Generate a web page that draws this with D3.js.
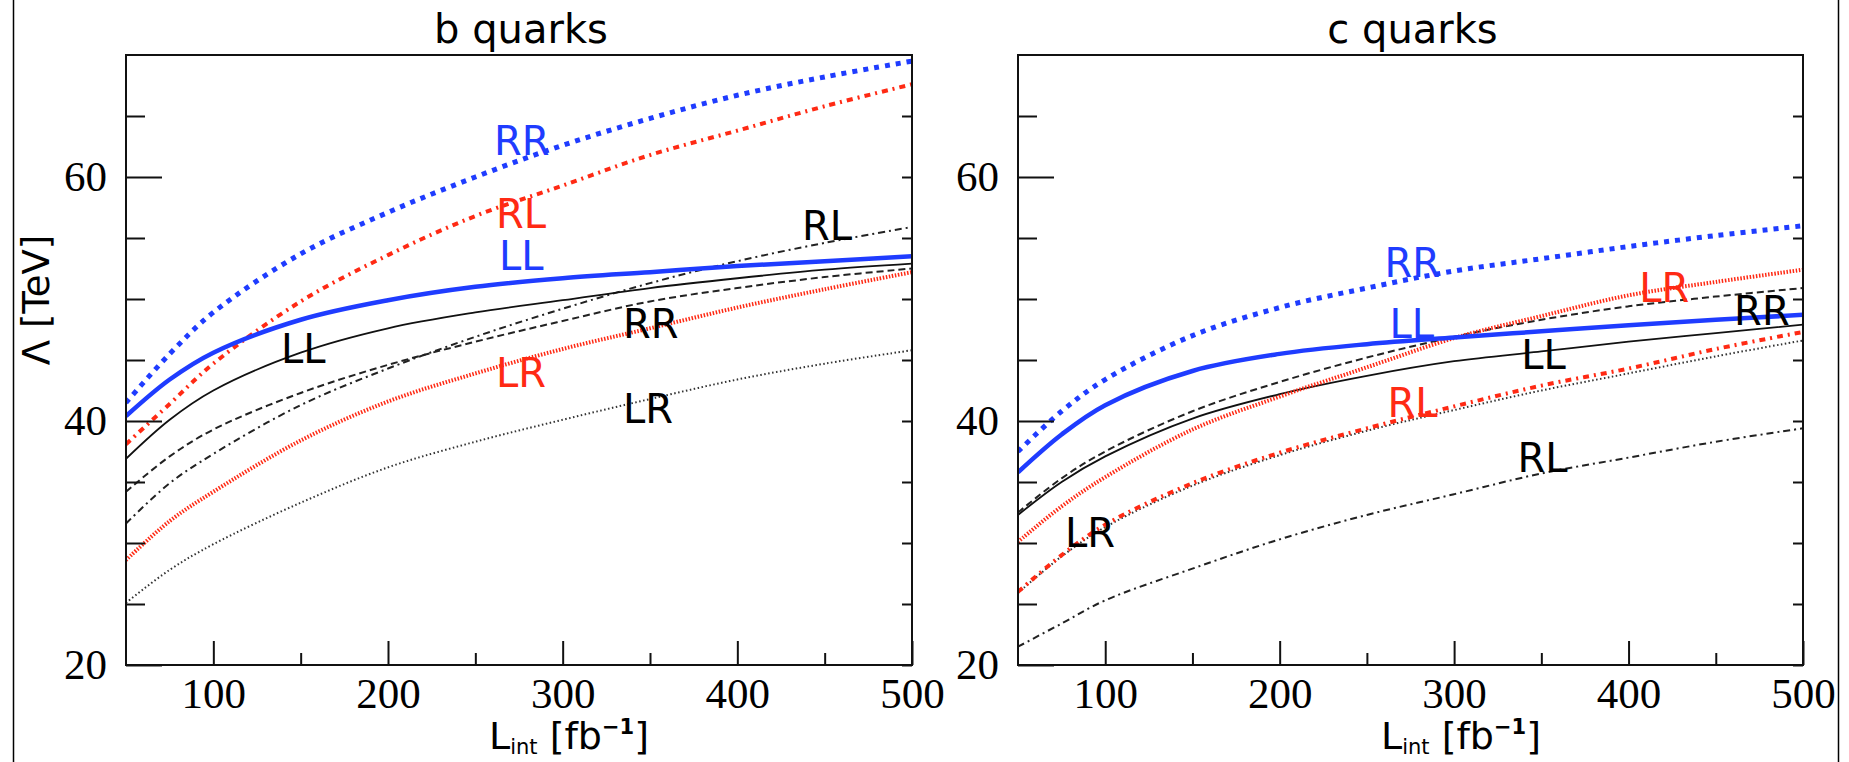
<!DOCTYPE html>
<html><head><meta charset="utf-8">
<script src="https://cdn.jsdelivr.net/npm/d3@7"></script>
<style>body{margin:0;background:#fff;} svg{display:block;background:#fff}</style>
</head><body>
<svg id="chart" width="1849" height="762"></svg>
<script>
// ---------- data ----------
const lumi = [50, 75, 100, 150, 200, 250, 300, 350, 400, 450, 500];
const panelTitles = ["b quarks", "c quarks"];
const xTickValues = [100, 200, 300, 400, 500];
const xMinorTicks = [150, 250, 350, 450];
const yTickValues = [20, 40, 60];
const yMinorTicks = [25, 30, 35, 45, 50, 55, 65];

// b quarks
const b_RR_blue  = [41.5, 45.5, 48.9, 53.7, 57.1, 60.0, 62.6, 64.8, 66.7, 68.2, 69.5];
const b_LL_blue  = [40.4, 43.4, 45.6, 48.3, 49.9, 51.0, 51.7, 52.2, 52.7, 53.1, 53.5];
const b_RL_red   = [38.1, 41.4, 44.7, 49.8, 53.6, 56.8, 59.3, 61.8, 63.8, 65.8, 67.6];
const b_LR_red   = [28.6, 31.8, 34.2, 38.4, 41.6, 43.9, 45.9, 47.6, 49.3, 50.8, 52.2];
const b_LL_black = [36.9, 40.1, 42.5, 45.6, 47.6, 48.9, 49.9, 50.9, 51.7, 52.4, 52.9];
const b_RR_black = [34.2, 37.1, 39.3, 42.3, 44.6, 46.5, 48.2, 49.8, 50.9, 51.8, 52.5];
const b_RL_black = [31.6, 34.9, 37.3, 41.3, 44.3, 46.9, 49.2, 51.3, 53.1, 54.6, 55.9];
const b_LR_black = [25.1, 27.8, 29.9, 33.3, 36.2, 38.3, 40.1, 41.8, 43.4, 44.7, 45.8];

// c quarks
const c_RR_blue  = [37.5, 40.8, 43.4, 47.0, 49.3, 50.9, 52.3, 53.3, 54.3, 55.2, 56.0];
const c_LL_blue  = [35.8, 38.9, 41.3, 44.1, 45.5, 46.3, 46.85, 47.35, 47.85, 48.3, 48.7];
const c_LR_red   = [30.1, 33.0, 35.4, 39.3, 42.0, 44.4, 46.8, 48.6, 50.3, 51.4, 52.4];
const c_RL_red   = [26.0, 29.0, 31.5, 34.9, 37.4, 39.4, 41.2, 42.9, 44.3, 45.9, 47.3];
const c_LL_black = [32.3, 35.0, 37.1, 40.2, 42.2, 43.7, 44.9, 45.7, 46.5, 47.2, 47.9];
const c_RR_black = [32.5, 35.3, 37.5, 40.8, 43.2, 45.2, 46.9, 48.3, 49.4, 50.2, 50.9];
const c_RL_black = [21.5, 23.4, 25.3, 27.9, 30.3, 32.3, 34.0, 35.7, 37.0, 38.3, 39.4];
const c_LR_black = [25.9, 28.9, 31.3, 34.7, 37.2, 39.2, 40.9, 42.5, 43.9, 45.3, 46.6];

// curve labels: text, luminosity, Lambda (data coordinates of label baseline start)
const b_labels = [
  ["RR", 260.7, 61.8, "blue"], ["RL", 261.8, 55.8, "red"], ["LL", 263.5, 52.4, "blue"],
  ["LL", 138.7, 44.75, "black"], ["LR", 261.8, 42.8, "red"], ["LR", 334.5, 39.8, "black"],
  ["RR", 334.5, 46.8, "black"], ["RL", 437, 54.8, "black"]
];
const c_labels = [
  ["RR", 260.1, 51.8, "blue"], ["LL", 263, 46.8, "blue"], ["RL", 261.8, 40.3, "red"],
  ["LL", 338.5, 44.3, "black"], ["LR", 406.1, 49.75, "red"], ["RR", 460.5, 47.9, "black"],
  ["RL", 336.3, 35.8, "black"], ["LR", 76.9, 29.7, "black"]
];

// ---------- styles ----------
const BLUE = "#1f3cff", RED = "#ff2a14";
const colorOf = {blue: BLUE, red: RED, black: "#000"};
const styles = {
  blueDot:   {stroke: BLUE, width: 5,   dash: "5,6"},
  blueSolid: {stroke: BLUE, width: 4.5, dash: null},
  redDashDot:{stroke: RED,  width: 4,   dash: "6,5,2,5"},
  redDot:    {stroke: RED,  width: 4,   dash: "1.5,1.6"},
  blkSolid:  {stroke: "#111", width: 1.8, dash: null},
  blkDash:   {stroke: "#222", width: 2,   dash: "7,4"},
  blkDashDot:{stroke: "#222", width: 2,   dash: "7,4,2,4"},
  blkDot:    {stroke: "#333", width: 2,   dash: "1.5,2.5"}
};

const panels = [
  {x0: 126, x1: 912, title: panelTitles[0], labels: b_labels,
   series: [
     [b_LR_black, "blkDot"], [b_RL_black, "blkDashDot"], [b_RR_black, "blkDash"], [b_LL_black, "blkSolid"],
     [b_LR_red, "redDot"], [b_RL_red, "redDashDot"], [b_LL_blue, "blueSolid"], [b_RR_blue, "blueDot"]
   ]},
  {x0: 1018, x1: 1803, title: panelTitles[1], labels: c_labels,
   series: [
     [c_RL_black, "blkDashDot"], [c_LR_black, "blkDot"], [c_LL_black, "blkSolid"], [c_RR_black, "blkDash"],
     [c_RL_red, "redDashDot"], [c_LR_red, "redDot"], [c_LL_blue, "blueSolid"], [c_RR_blue, "blueDot"]
   ]}
];
const Y0 = 55, Y1 = 665;

const svg = d3.select("#chart");
svg.append("rect").attr("width", 1849).attr("height", 762).attr("fill", "#fff");

// outer border lines
svg.append("line").attr("x1", 13.5).attr("x2", 13.5).attr("y1", 0).attr("y2", 762)
  .attr("stroke", "#000").attr("stroke-width", 1.5);
svg.append("line").attr("x1", 1838.5).attr("x2", 1838.5).attr("y1", 0).attr("y2", 762)
  .attr("stroke", "#000").attr("stroke-width", 1.5);

panels.forEach((p, pi) => {
  const x = d3.scaleLinear().domain([50, 500]).range([p.x0, p.x1]);
  const y = d3.scaleLinear().domain([20, 70]).range([Y1, Y0]);
  const g = svg.append("g");

  const clipId = "clip" + pi;
  svg.append("clipPath").attr("id", clipId).append("rect")
    .attr("x", p.x0).attr("y", Y0).attr("width", p.x1 - p.x0).attr("height", Y1 - Y0);

  const line = d3.line().x((d, i) => x(lumi[i])).y(d => y(d)).curve(d3.curveCatmullRom.alpha(0.5));
  const lg = g.append("g").attr("clip-path", `url(#${clipId})`);
  p.series.forEach(([vals, sname]) => {
    const s = styles[sname];
    lg.append("path").datum(vals).attr("d", line)
      .attr("fill", "none").attr("stroke", s.stroke).attr("stroke-width", s.width)
      .attr("stroke-dasharray", s.dash).attr("stroke-linecap", "butt");
  });

  // curve labels
  p.labels.forEach(([t, L, v, c]) => {
    g.append("text").attr("x", x(L)).attr("y", y(v)).text(t)
      .attr("fill", colorOf[c]).attr("font-family", "DejaVu Sans").attr("font-size", 40);
  });

  // frame
  g.append("rect").attr("x", p.x0).attr("y", Y0).attr("width", p.x1 - p.x0).attr("height", Y1 - Y0)
    .attr("fill", "none").attr("stroke", "#111").attr("stroke-width", 2);

  const styleAxis = (sel) => {
    sel.select(".domain").remove();
    sel.selectAll(".tick line").attr("stroke", "#111").attr("stroke-width", 2);
    sel.selectAll(".tick text").attr("font-family", "Liberation Serif").attr("font-size", 43).attr("fill", "#000");
  };

  // left axis major with labels
  g.append("g").attr("transform", `translate(${p.x0},0)`)
    .call(d3.axisLeft(y).tickValues(yTickValues).tickSize(-36).tickPadding(19).tickFormat(d3.format("d")))
    .call(styleAxis);
  g.append("g").attr("transform", `translate(${p.x0},0)`)
    .call(d3.axisLeft(y).tickValues(yMinorTicks).tickSize(-19).tickFormat(""))
    .call(styleAxis);
  // right axis ticks
  g.append("g").attr("transform", `translate(${p.x1},0)`)
    .call(d3.axisRight(y).tickValues(yTickValues.concat(yMinorTicks)).tickSize(-10).tickFormat(""))
    .call(styleAxis);
  // bottom axis
  g.append("g").attr("transform", `translate(0,${Y1})`)
    .call(d3.axisBottom(x).tickValues(xTickValues).tickSize(-24).tickPadding(12).tickFormat(d3.format("d")))
    .call(styleAxis);
  g.append("g").attr("transform", `translate(0,${Y1})`)
    .call(d3.axisBottom(x).tickValues(xMinorTicks).tickSize(-12).tickFormat(""))
    .call(styleAxis);

  // title
  g.append("text").attr("x", (p.x0 + p.x1) / 2 + 2).attr("y", 43).attr("text-anchor", "middle")
    .attr("font-family", "DejaVu Sans").attr("font-size", 40).attr("fill", "#000").text(p.title);

  // x axis title
  const xt = g.append("text").attr("x", p.x0 + 363).attr("y", 749)
    .attr("font-family", "DejaVu Sans").attr("font-size", 38).attr("fill", "#000");
  xt.append("tspan").text("L");
  xt.append("tspan").attr("font-size", 21).attr("dy", 5).text("int");
  xt.append("tspan").attr("dy", -5).text(" [fb");
  xt.append("tspan").attr("font-size", 21).attr("font-weight", "bold").attr("dy", -15).text("\u22121");
  xt.append("tspan").attr("dy", 15).text("]");
});

// y axis title
svg.append("text").attr("transform", "translate(49,300) rotate(-90)")
  .attr("text-anchor", "middle").attr("font-family", "DejaVu Sans").attr("font-size", 37)
  .attr("fill", "#000").text("\u039B [TeV]");
</script>
</body></html>
